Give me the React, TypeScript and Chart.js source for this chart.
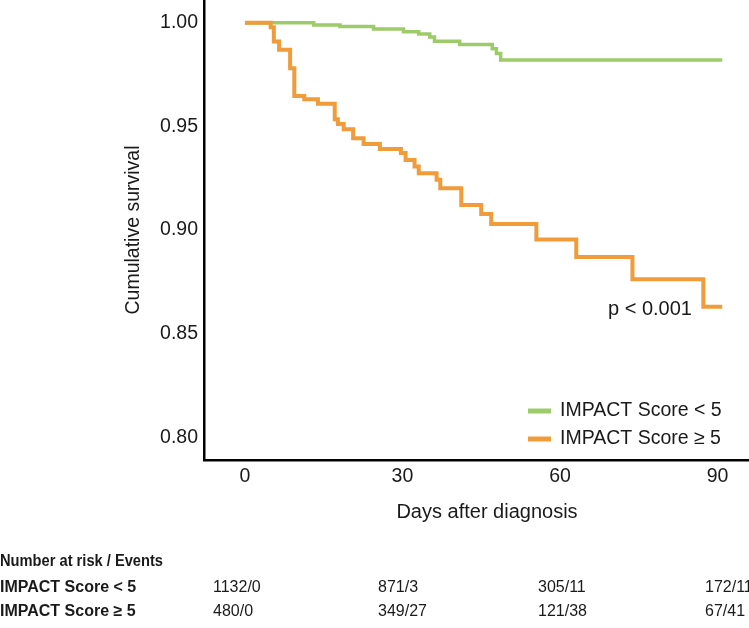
import React, { useEffect, useRef } from "react";
import { Chart, registerables } from "chart.js";

Chart.register(...registerables);

// ---- Data ----
const seriesLabels = ["IMPACT Score < 5", "IMPACT Score ≥ 5"];

// Kaplan–Meier steps: day of event, survival after event
const lowDays = [0, 13.1, 18.1, 24.5, 30.2, 33.1, 35.2, 36.1, 40.9, 47.1, 47.9, 48.7, 90.9];
const lowSurv = [1.0, 0.9989, 0.9982, 0.997, 0.9957, 0.9946, 0.9932, 0.9911, 0.9895, 0.9875, 0.9852, 0.9821, 0.9821];

const highDays = [
  0, 4.9, 5.5, 6.5, 8.6, 9.4, 11.3, 13.9, 17.1, 17.7, 18.8, 20.6, 22.6, 25.7, 29.7, 30.6,
  32.3, 33.1, 36.5, 37.2, 41.2, 45.0, 46.9, 55.5, 63.1, 73.8, 87.3, 90.9,
];
const highSurv = [
  1.0, 0.9979, 0.991, 0.987, 0.9781, 0.9647, 0.9631, 0.9609, 0.9535, 0.9512, 0.9486, 0.9443,
  0.9415, 0.9391, 0.9372, 0.9338, 0.9306, 0.9274, 0.9242, 0.9201, 0.9121, 0.9077, 0.9029,
  0.8954, 0.887, 0.8762, 0.8629, 0.8629,
];

const xTicks = [0, 30, 60, 90];
const yTicks = [0.8, 0.85, 0.9, 0.95, 1.0];

const xTitle = "Days after diagnosis";
const yTitle = "Cumulative survival";
const pValueText = "p < 0.001";
const tableTitle = "Number at risk / Events";
const riskLow = ["1132/0", "871/3", "305/11", "172/11"];
const riskHigh = ["480/0", "349/27", "121/38", "67/41"];

// ---- Styles / layout ----
const FONT = '"Liberation Sans", Arial, Helvetica, sans-serif';
const GREEN = "#9dcb6a";
const ORANGE = "#f09c3a";
const TEXT = "#1a1a1a";
const FS = 19.5;
const tableColX = [213, 378, 538, 705];

const overlayPlugin = {
  id: "overlay",
  afterDraw(chart: any) {
    const ctx = chart.ctx as CanvasRenderingContext2D;
    ctx.save();
    ctx.fillStyle = TEXT;
    ctx.textBaseline = "middle";

    // Legend (bottom-right inside plot)
    const ds = chart.data.datasets;
    const legendOrder = [1, 0];
    const legendY = [411, 439];
    legendOrder.forEach((di, i) => {
      const d = ds[di];
      ctx.strokeStyle = d.borderColor;
      ctx.lineWidth = 5;
      ctx.beginPath();
      ctx.moveTo(528, legendY[i]);
      ctx.lineTo(551, legendY[i]);
      ctx.stroke();
      ctx.font = `${FS}px ${FONT}`;
      ctx.textAlign = "left";
      ctx.fillText(d.label, 560, legendY[i]);
    });

    // p-value
    ctx.font = `20px ${FONT}`;
    ctx.textAlign = "left";
    ctx.fillText(pValueText, 608, 309);

    // x-axis title
    ctx.font = `20px ${FONT}`;
    ctx.textAlign = "center";
    ctx.fillText(xTitle, 487, 512);

    // Risk table
    ctx.textAlign = "left";
    ctx.font = `bold 16px ${FONT}`;
    ctx.fillText(tableTitle, 0, 562, 163);
    ctx.fillText(seriesLabels[0], 0, 588, 138);
    ctx.fillText(seriesLabels[1], 0, 612, 138);
    ctx.font = `16px ${FONT}`;
    riskLow.forEach((t, i) => ctx.fillText(t, tableColX[i], 588));
    riskHigh.forEach((t, i) => ctx.fillText(t, tableColX[i], 612));
    ctx.restore();
  },
};

export default function App() {
  const ref = useRef<HTMLCanvasElement>(null);

  useEffect(() => {
    if (!ref.current) return;
    Chart.defaults.font.family = FONT;
    const chart = new Chart(ref.current, {
      type: "line",
      data: {
        datasets: [
          {
            label: seriesLabels[1],
            data: highDays.map((d, i) => ({ x: d, y: highSurv[i] })),
            borderColor: ORANGE,
            backgroundColor: ORANGE,
            borderWidth: 4,
            stepped: "before",
            pointRadius: 0,
            fill: false,
            order: 0,
            borderCapStyle: "butt",
            borderJoinStyle: "miter",
          },
          {
            label: seriesLabels[0],
            data: lowDays.map((d, i) => ({ x: d, y: lowSurv[i] })),
            borderColor: GREEN,
            backgroundColor: GREEN,
            borderWidth: 3.5,
            stepped: "before",
            pointRadius: 0,
            fill: false,
            order: 1,
            borderCapStyle: "butt",
            borderJoinStyle: "miter",
          },
        ],
      },
      options: {
        responsive: false,
        animation: false,
        devicePixelRatio: 1,
        layout: { padding: 0 },
        plugins: {
          legend: { display: false },
          tooltip: { enabled: false },
        },
        scales: {
          x: {
            type: "linear",
            min: -7.8,
            max: 96,
            afterBuildTicks: (s: any) => {
              s.ticks = xTicks.map((v) => ({ value: v }));
            },
            afterFit: (s: any) => {
              s.height = 168;
              s.paddingLeft = 0;
              s.paddingRight = 0;
            },
            grid: { display: false, drawTicks: false },
            border: { display: true, color: "#000", width: 2.5 },
            ticks: {
              padding: 5,
              color: TEXT,
              font: { size: FS, family: FONT },
              maxRotation: 0,
              callback: (v: any) => String(v),
            },
            title: { display: false },
          },
          y: {
            type: "linear",
            min: 0.789,
            max: 1.011,
            afterBuildTicks: (s: any) => {
              s.ticks = yTicks.map((v) => ({ value: v }));
            },
            afterFit: (s: any) => {
              s.width = 204;
              s.paddingTop = 0;
              s.paddingBottom = 0;
            },
            grid: { display: false, drawTicks: false },
            border: { display: true, color: "#000", width: 2.5 },
            ticks: {
              padding: 6,
              color: TEXT,
              font: { size: FS, family: FONT },
              callback: (v: any) => Number(v).toFixed(2),
            },
            title: {
              display: true,
              text: yTitle,
              color: TEXT,
              font: { size: FS, family: FONT },
              padding: { top: 122, bottom: 0 },
            },
          },
        },
      },
      plugins: [overlayPlugin],
    } as any);
    return () => chart.destroy();
  }, []);

  return (
    <div
      style={{
        position: "fixed",
        left: 0,
        top: 0,
        width: 749,
        height: 628,
        background: "#fff",
      }}
    >
      <canvas ref={ref} width={749} height={628} style={{ display: "block" }} />
    </div>
  );
}
